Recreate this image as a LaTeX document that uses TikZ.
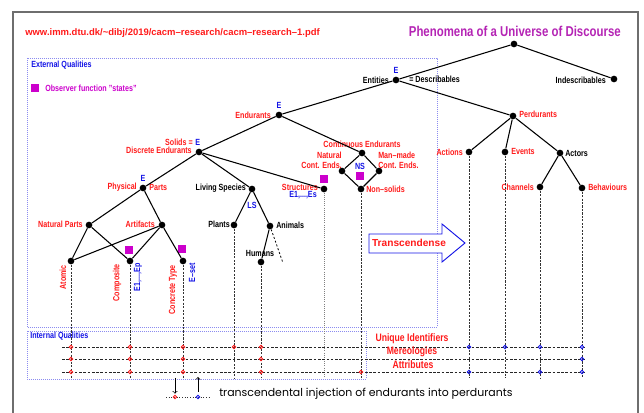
\documentclass[tikz,border=0pt]{standalone}
\usepackage{fontspec}
\setmainfont{Liberation Sans}[FakeStretch=0.8]
\newfontfamily\widefont{Liberation Sans}[Ligatures=TeX]
\newfontfamily\notefont{Poppins}[Ligatures=TeX]
\usepackage{tikz}
\definecolor{MarkRed}{HTML}{FF1A1A}
\definecolor{QualBlue}{HTML}{1414E6}
\definecolor{BoxBlue}{HTML}{8C8CF0}
\definecolor{ObsPurple}{HTML}{CC00CC}
\definecolor{TitlePurple}{HTML}{B424B4}
\definecolor{FrameGrey}{HTML}{6E6E6E}

\begin{document}
\begin{tikzpicture}[x=0.75pt,y=-0.75pt,
    dot/.style={circle,fill=black,inner sep=0pt,minimum size=5pt},
    branch/.style={line width=0.8pt},
    lbl/.style={inner sep=0pt,font=\bfseries\fontsize{6.7}{7.6}\selectfont},
    rlbl/.style={lbl,text=MarkRed},
    blbl/.style={lbl,text=QualBlue},
    obs/.style={fill=ObsPurple,inner sep=0pt,minimum size=6.7pt},
    tie/.style={line width=0.5pt,black!80,dash pattern=on 1.6pt off 1pt},
    qrow/.style={line width=0.6pt,black!85,dash pattern=on 2pt off 1.2pt},
    qbox/.style={BoxBlue,line width=0.6pt,dash pattern=on 0.6pt off 0.9pt},
    ijred/.style={MarkRed,line width=0.6pt},
    ijblue/.style={QualBlue,line width=0.6pt}]
  \useasboundingbox (0,0) rectangle (644,413);

  % frame and headings
  \coordinate (fr-bl) at (13,413);
  \coordinate (fr-tr) at (638,12);
  \draw[FrameGrey,line width=1.1pt] (fr-bl) |- (fr-tr) -- (fr-tr |- fr-bl);
  \node[font=\widefont\bfseries\fontsize{7.1}{8}\selectfont,text=MarkRed,anchor=west,inner sep=0pt] (url) at (25,33) {www.imm.dtu.dk/\textasciitilde dibj/2019/cacm--research/cacm--research--1.pdf};
  \node[font=\bfseries\fontsize{10.7}{12}\selectfont,text=TitlePurple,anchor=east,inner sep=0pt] (title) at (621,31) {Phenomena of a Universe of Discourse};

  % quality boxes
  \draw[qbox] (27,58) rectangle (437,327);
  \draw[qbox] (27,331) rectangle (366,379);
  \node[blbl,anchor=west] (extq) at (31,65) {External Qualities};
  \node[obs] (obs-key) at (35,88) {};
  \node[lbl,text=ObsPurple,anchor=west] (obs-txt) at (45,88) {Observer function "states"};
  \node[blbl,anchor=west] (intq) at (30,336) {Internal Qualities};

  % tree nodes
  \node[dot] (uod) at (514,44) {};
  \node[dot] (ent) at (396,80) {};
  \node[dot] (indes) at (614,79) {};
  \node[dot] (perd) at (513,116) {};
  \node[dot] (endu) at (279,115) {};
  \node[dot] (solid) at (199,152) {};
  \node[dot] (phys) at (143,188) {};
  \node[dot] (natp) at (89,225) {};
  \node[dot] (artf) at (162,225) {};
  \node[dot] (atom) at (71,261) {};
  \node[dot] (comp) at (130,261) {};
  \node[dot] (ctype) at (183,261) {};
  \node[dot] (living) at (252,189) {};
  \node[dot] (plant) at (234,225) {};
  \node[dot] (anim) at (270,226) {};
  \node[dot] (human) at (261,262) {};
  \node[dot] (struct) at (324,189) {};
  \node[dot] (cont) at (362,153) {};
  \node[dot] (natc) at (342,171) {};
  \node[dot] (manc) at (379,171) {};
  \node[dot] (nsol) at (361,189) {};
  \node[dot] (act) at (469,152) {};
  \node[dot] (evt) at (505,152) {};
  \node[dot] (actr) at (560,153) {};
  \node[dot] (chan) at (540,187) {};
  \node[dot] (behv) at (582,188) {};

  % observer squares
  \node[obs] (comp-obs) at (129,250) {};
  \node[obs] (ctype-obs) at (182,249) {};
  \node[obs] (struct-obs) at (324,179) {};
  \node[obs] (nsol-obs) at (360,176) {};

  % labels
  \node[lbl,anchor=east] (ent-l) at (389,80) {Entities};
  \node[blbl] (ent-e) at (396,70) {E};
  \node[lbl,anchor=west] (ent-d) at (409,79) {= Describables};
  \node[lbl,anchor=east] (indes-l) at (606,80) {Indescribables};
  \node[rlbl,anchor=west] (perd-l) at (519,114) {Perdurants};
  \node[rlbl,anchor=east] (endu-l) at (271,115) {Endurants};
  \node[blbl] (endu-e) at (279,105) {E};
  \node[rlbl,anchor=east] (solid-l) at (193,142) {Solids =};
  \node[blbl,anchor=west] (solid-e) at (195,142) {E};
  \node[rlbl,anchor=east] (solid-d) at (192,150) {Discrete Endurants};
  \node[rlbl,anchor=east] (phys-l) at (137,187) {Physical};
  \node[rlbl,anchor=west] (phys-r) at (149,187) {Parts};
  \node[blbl] (phys-e) at (143,178) {E};
  \node[rlbl,anchor=east] (natp-l) at (83,224) {Natural Parts};
  \node[rlbl,anchor=east] (artf-l) at (155,224) {Artifacts};
  \node[rlbl,rotate=90,anchor=east] (atom-l) at (63,265) {Atomic};
  \node[rlbl,rotate=90,anchor=east] (comp-l) at (117,264) {Composite};
  \node[blbl,rotate=90,anchor=east] (comp-r) at (138,263) {E1,...,Ep};
  \node[rlbl,rotate=90,anchor=east] (ctype-l) at (173,265) {Concrete Type};
  \node[blbl,rotate=90,anchor=east] (ctype-r) at (192,263) {E--set};
  \node[lbl,anchor=east] (living-l) at (246,188) {Living Species};
  \node[blbl] (living-ls) at (252,205) {LS};
  \node[lbl,anchor=east] (plant-l) at (230,224) {Plants};
  \node[lbl,anchor=west] (anim-l) at (276,225) {Animals};
  \node[lbl] (human-l) at (260,253) {Humans};
  \node[rlbl,anchor=east] (struct-l) at (318,187) {Structures};
  \node[blbl,anchor=east] (struct-e) at (317,195) {E1,...,Es};
  \node[rlbl] (cont-l) at (362,144) {Continuous Endurants};
  \node[rlbl,anchor=east,align=right] (natc-l) at (342,160) {Natural\\Cont. Ends.};
  \node[rlbl,anchor=west,align=left] (manc-l) at (378,160) {Man--made\\Cont. Ends.};
  \node[blbl] (nsol-ns) at (360,166) {NS};
  \node[rlbl,anchor=west] (nsol-l) at (366,189) {Non--solids};
  \node[rlbl,anchor=east] (act-l) at (463,152) {Actions};
  \node[rlbl,anchor=west] (evt-l) at (511,151) {Events};
  \node[lbl,anchor=west] (actr-l) at (565,153) {Actors};
  \node[rlbl,anchor=east] (chan-l) at (534,187) {Channels};
  \node[rlbl,anchor=west] (behv-l) at (588,187) {Behaviours};

  % branches
  \draw[branch] (uod) -- (ent);
  \draw[branch] (uod) -- (indes);
  \draw[branch] (ent) -- (endu);
  \draw[branch] (ent) -- (perd);
  \draw[branch] (endu) -- (solid);
  \draw[branch] (endu) -- (cont);
  \draw[branch] (solid) -- (phys);
  \draw[branch] (solid) -- (living);
  \draw[branch] (solid) -- (struct);
  \draw[branch] (phys) -- (natp);
  \draw[branch] (phys) -- (artf);
  \draw[branch] (natp) -- (atom);
  \draw[branch] (natp) -- (comp);
  \draw[branch] (artf) -- (atom);
  \draw[branch] (artf) -- (comp);
  \draw[branch] (artf) -- (ctype);
  \draw[branch] (living) -- (plant);
  \draw[branch] (living) -- (anim);
  \draw[branch] (anim) -- (human);
  \coordinate (anim-more) at (283,263);
  \draw[line width=0.6pt,dash pattern=on 1.5pt off 1.5pt] (anim) -- (anim-more);
  \draw[branch] (cont) -- (natc);
  \draw[branch] (cont) -- (manc);
  \draw[branch] (natc) -- (nsol);
  \draw[branch] (manc) -- (nsol);
  \draw[branch] (perd) -- (act);
  \draw[branch] (perd) -- (evt);
  \draw[branch] (perd) -- (actr);
  \draw[branch] (actr) -- (chan);
  \draw[branch] (actr) -- (behv);

  % leaves down into the qualities
  \coordinate (qbase) at (0,378);
  \draw[tie] (atom) -- (atom |- qbase);
  \draw[tie] (comp) -- (comp |- qbase);
  \draw[tie] (ctype) -- (ctype |- qbase);
  \draw[tie] (plant) -- (plant |- qbase);
  \draw[tie] (human) -- (human |- qbase);
  \draw[tie,black!50,dash pattern=on 0.7pt off 0.9pt] (struct) -- (struct |- qbase);
  \draw[tie] (nsol) -- (nsol |- qbase);
  \draw[tie] (act) -- (act |- qbase);
  \draw[tie] (evt) -- (evt |- qbase);
  \draw[tie] (chan) -- (chan |- qbase);
  \draw[tie] (behv) -- (behv |- qbase);

  % internal quality rows
  \coordinate (qright) at (585,0);
  \coordinate (uid-a) at (62,347);
  \coordinate (mer-a) at (62,359);
  \coordinate (attr-a) at (62,372);
  \draw[qrow] (uid-a) -- (uid-a -| qright);
  \draw[qrow] (mer-a) -- (mer-a -| qright);
  \draw[qrow] (attr-a) -- (attr-a -| qright);
  \node[rlbl,font=\bfseries\fontsize{8.1}{9}\selectfont] (uid-t) at (412,339) {Unique Identifiers};
  \node[rlbl,font=\bfseries\fontsize{8.1}{9}\selectfont] (mer-t) at (412,352) {Mereologies};
  \node[rlbl,font=\bfseries\fontsize{8.1}{9}\selectfont] (attr-t) at (413,365) {Attributes};

  % injection marks
  \draw[ijred] (71,347) circle (1.3pt) (71,359) circle (1.3pt) (71,372) circle (1.3pt)
    (130,347) circle (1.3pt) (130,359) circle (1.3pt) (130,372) circle (1.3pt)
    (183,347) circle (1.3pt) (183,359) circle (1.3pt) (183,372) circle (1.3pt)
    (234,347) circle (1.3pt)
    (261,347) circle (1.3pt) (261,359) circle (1.3pt) (261,372) circle (1.3pt)
    (361,372) circle (1.3pt);
  \draw[ijblue] (469,347) circle (1.3pt) (469,372) circle (1.3pt)
    (505,347) circle (1.3pt)
    (540,347) circle (1.3pt) (540,372) circle (1.3pt)
    (582,347) circle (1.3pt) (582,359) circle (1.3pt) (582,372) circle (1.3pt);

  % transcendence arrow
  \draw[QualBlue,line width=0.7pt,fill=white] (369,234) -- (442,234) -- (442,224) -- (465,243)
    -- (442,262) -- (442,253) -- (369,253) -- cycle;
  \node[font=\widefont\bfseries\fontsize{7.6}{9}\selectfont,text=MarkRed,inner sep=0pt] (trans) at (409,243) {Transcendense};

  % legend
  \coordinate (leg-a) at (166,397);
  \coordinate (leg-b) at (211,397);
  \coordinate (inj-e) at (175,397);
  \coordinate (inj-p) at (198,397);
  \coordinate (inj-e-top) at (175,378);
  \coordinate (inj-p-top) at (198,377);
  \draw[tie,dash pattern=on 0.8pt off 1.2pt] (leg-a) -- (leg-b);
  \draw[ijred] (inj-e) circle (1.3pt);
  \draw[ijblue] (inj-p) circle (1.3pt);
  \draw[->,line width=0.5pt,shorten >=2.5pt] (inj-e-top) -- (inj-e);
  \draw[->,line width=0.5pt,shorten <=4pt] (inj-p) -- (inj-p-top);
  \node[font=\notefont\fontsize{8.2}{9}\selectfont,anchor=west,inner sep=0pt] (inj-txt) at (219,394) {transcendental injection of endurants into perdurants};
\end{tikzpicture}
\end{document}
